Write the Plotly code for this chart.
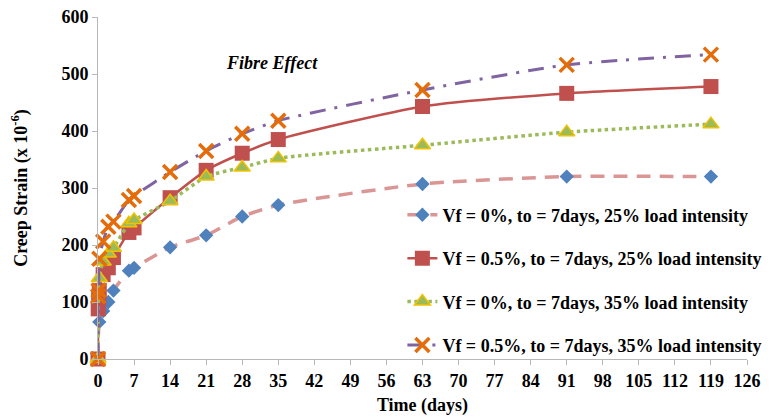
import plotly.graph_objects as go

# ---- data ----
t_blue = [0, 0.25, 1, 2, 3, 6, 7, 14, 21, 28, 35, 63, 91, 119]
y_blue = [0, 65, 84, 100, 120, 155, 160, 196, 217, 250, 270, 307, 320, 320]

t_red = [0, 0.04, 0.125, 0.25, 1, 2, 3, 6, 7, 14, 21, 28, 35, 63, 91, 119]
y_red = [0, 88, 108, 120, 148, 160, 178, 222, 230, 283, 331, 361, 385, 443, 466, 478]

t_green = [0, 0.25, 1, 2, 3, 6, 7, 14, 21, 28, 35, 63, 91, 119]
y_green = [0, 142, 171, 185, 195, 238, 244, 277, 320, 336, 352, 375, 398, 412]

t_orange = [0, 0.04, 0.125, 0.25, 1, 2, 3, 6, 7, 14, 21, 28, 35, 63, 91, 119]
y_orange = [0, 110, 120, 176, 206, 232, 241, 279, 286, 328, 365, 395, 418, 472, 516, 534]

names = [
    "Vf = 0%, to = 7days, 25% load intensity",
    "Vf = 0.5%, to = 7days, 25% load intensity",
    "Vf = 0%, to = 7days, 35% load intensity",
    "Vf = 0.5%, to = 7days, 35% load intensity",
]
x_ticks = list(range(0, 127, 7))
y_ticks = list(range(0, 601, 100))

FONT = "Liberation Serif"
FS = 18

fig = go.Figure()
fig.add_trace(go.Scatter(
    x=t_blue, y=y_blue, name=names[0], mode="lines+markers", legendgroup="a",
    line=dict(color="#DA9694", width=3.5, dash="14px,9px", shape="spline", smoothing=0.6),
    marker=dict(symbol="diamond", size=11, color="#4F81BD", line=dict(width=0)),
    cliponaxis=False))
fig.add_trace(go.Scatter(
    x=t_red, y=y_red, name=names[1], mode="lines+markers", legendgroup="b",
    line=dict(color="#C0504D", width=2.5, shape="spline", smoothing=0.6),
    marker=dict(symbol="square", size=15, color="#C0504D", line=dict(width=0)),
    cliponaxis=False))
fig.add_trace(go.Scatter(
    x=t_green, y=y_green, name=names[2], mode="lines+markers", legendgroup="c",
    line=dict(color="#9BBB59", width=3.5, dash="dot", shape="spline", smoothing=0.6),
    marker=dict(symbol="triangle-up", size=14, color="#9BBB59", line=dict(width=1.5, color="#F2C200")),
    cliponaxis=False))
fig.add_trace(go.Scatter(
    x=t_orange, y=y_orange, name=names[3], mode="lines+markers", legendgroup="d",
    line=dict(color="#8064A2", width=3, dash="16px,9px,3px,9px", shape="spline", smoothing=0.6),
    marker=dict(symbol="x-thin", size=14, color="#E46C0A", line=dict(width=3.5, color="#E46C0A")),
    cliponaxis=False))

fig.add_annotation(x=33.8, y=520, text="Fibre Effect", showarrow=False,
                   font=dict(family=FONT, size=FS, color="black", weight="bold", style="italic"))

fig.update_layout(
    width=770, height=409,
    margin=dict(l=90, r=31, t=9, b=58),
    paper_bgcolor="white", plot_bgcolor="white",
    font=dict(family=FONT, size=FS, color="black", weight="bold"),
    showlegend=True,
    legend=dict(x=0.469, y=0.475, xanchor="left", yanchor="top",
                bgcolor="rgba(0,0,0,0)", tracegroupgap=17,
                font=dict(family=FONT, size=FS, color="black", weight="bold"),
                itemwidth=30),
    xaxis=dict(range=[0, 126], tickvals=x_ticks, ticktext=[str(v) for v in x_ticks],
               showgrid=False, zeroline=False, showline=True, linecolor="#B8B8B8", linewidth=1,
               ticks="outside", ticklen=5, tickcolor="#B8B8B8", automargin=False,
               tickangle=0, ticklabeloverflow="allow",
               title=dict(text="Time (days)", font=dict(family=FONT, size=FS, weight="bold"), standoff=8),
               tickfont=dict(family=FONT, size=FS, weight="bold")),
    yaxis=dict(range=[0, 600], tickvals=y_ticks, ticktext=[str(v) for v in y_ticks],
               showgrid=False, zeroline=False, showline=True, linecolor="#B8B8B8", linewidth=1,
               ticks="outside", ticklen=5, tickcolor="#B8B8B8", automargin=False,
               ticklabeloverflow="allow",
               title=dict(text="Creep Strain (x 10<sup>-6</sup>)", font=dict(family=FONT, size=FS, weight="bold"), standoff=30),
               tickfont=dict(family=FONT, size=FS, weight="bold")),
)

fig.write_html("out.html")
